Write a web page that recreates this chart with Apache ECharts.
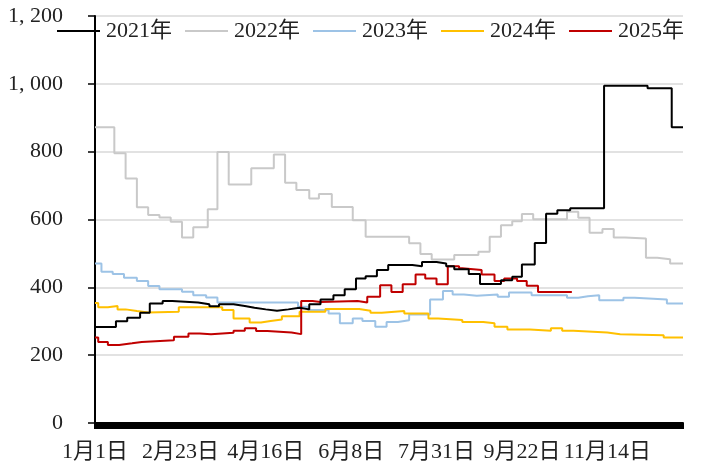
<!DOCTYPE html>
<html>
<head>
<meta charset="utf-8">
<script src="https://cdn.jsdelivr.net/npm/echarts@6/dist/echarts.min.js"></script>
<style>
  html, body { margin: 0; padding: 0; background: #fff; }
  #chart { width: 704px; height: 463px; }
</style>
</head>
<body>
<div id="chart"></div>
<script>
// 年份
var years = ['2021年', '2022年', '2023年', '2024年', '2025年'];
var colors = ['#000000', '#c9c9c9', '#9dc3e6', '#ffc000', '#c00000'];
// x 轴标签（每 53 天一个）
var xLabels = ['1月1日', '2月23日', '4月16日', '6月8日', '7月31日', '9月22日', '11月14日'];

// [第几天, 数值]，数值保持到下一个点
var s2021 = [[0,283],[13,300],[20,310],[28,325],[34,352],[42,360],[48,355],[64,350],[71,344],[77,350],[86,345],[93,340],[99,335],[106,331],[113,335],[120,340],[127,335],[133,350],[140,364],[148,377],[155,394],[162,426],[168,433],[175,451],[182,466],[197,462],[203,475],[212,470],[218,462],[223,453],[232,439],[239,410],[252,421],[259,431],[265,467],[273,531],[280,617],[287,627],[295,633],[316,994],[343,987],[358,872],[365,872]];
var s2022 = [[0,872],[12,795],[19,721],[26,636],[33,613],[40,606],[47,593],[54,547],[61,577],[70,630],[76,799],[83,703],[97,751],[111,792],[118,708],[125,687],[133,662],[139,675],[147,637],[160,598],[168,549],[195,530],[202,498],[209,482],[223,495],[238,505],[245,549],[252,583],[259,595],[265,616],[272,601],[293,623],[300,605],[307,561],[315,572],[322,547],[329,544],[342,487],[349,483],[357,470],[365,470]];
var s2023 = [[0,470],[4,446],[11,439],[18,428],[26,419],[33,404],[40,394],[54,387],[61,377],[69,370],[76,355],[126,343],[132,333],[145,323],[152,294],[160,308],[166,301],[174,284],[181,298],[188,303],[195,320],[208,364],[216,389],[222,379],[229,375],[237,379],[250,372],[257,385],[271,377],[293,369],[300,374],[306,377],[313,362],[328,369],[335,364],[355,352],[365,352]];
var s2024 = [[0,354],[2,341],[8,345],[14,335],[19,330],[26,326],[33,328],[52,341],[79,333],[86,308],[96,296],[103,301],[109,305],[116,315],[127,328],[143,336],[164,331],[171,325],[178,330],[192,323],[207,308],[213,304],[228,298],[241,294],[248,284],[256,276],[270,272],[283,279],[290,272],[297,267],[318,262],[326,259],[353,252],[365,252]];
var s2025 = [[0,252],[2,239],[8,230],[15,235],[23,239],[29,244],[49,254],[58,264],[65,262],[72,266],[86,272],[93,279],[100,271],[107,267],[122,262],[128,360],[135,357],[140,360],[163,355],[169,372],[177,406],[184,386],[191,409],[199,438],[205,426],[212,409],[219,462],[226,456],[228,451],[240,438],[248,419],[254,426],[262,419],[268,405],[275,386],[296,386]];
var seriesData = [s2021, s2022, s2023, s2024, s2025];

var chart = echarts.init(document.getElementById('chart'));
var font = '"Liberation Serif", "Noto Sans CJK SC", serif';

var series = [];
for (var i = 0; i < years.length; i++) {
  series.push({
    name: years[i],
    type: 'line',
    step: 'end',
    symbol: 'none',
    data: seriesData[i],
    lineStyle: { color: colors[i], width: 2 },
    itemStyle: { color: colors[i] },
    z: i == 0 ? 5 : 3
  });
}

var option = {
  animation: false,
  backgroundColor: '#fff',
  grid: { left: 95, right: 21, top: 16, bottom: 40 },
  legend: {
    data: years,
    left: 57,
    top: 20,
    padding: 0,
    width: 680,
    icon: 'rect',
    itemWidth: 43,
    itemHeight: 2,
    itemGap: 13,
    textStyle: { fontFamily: font, fontSize: 22, color: '#222', padding: [0, 0, 0, 1] }
  },
  xAxis: [
    {
      type: 'value',
      min: 0,
      max: 365,
      interval: 53,
      axisLine: { lineStyle: { color: '#000', width: 2 } },
      axisTick: { show: false },
      splitLine: { show: false },
      axisLabel: {
        showMaxLabel: false,
        margin: 18,
        fontFamily: font,
        fontSize: 22,
        color: '#222',
        formatter: function (v) { return xLabels[Math.round(v / 53)] || ''; }
      }
    },
    {
      // 每天一个刻度
      type: 'value',
      position: 'bottom',
      min: 0,
      max: 365,
      interval: 1,
      axisLine: { show: false },
      axisTick: { show: true, length: 6, lineStyle: { color: '#000', width: 2 } },
      axisLabel: { show: false },
      splitLine: { show: false }
    }
  ],
  yAxis: {
    type: 'value',
    min: 0,
    max: 1200,
    interval: 200,
    axisLine: { show: true, lineStyle: { color: '#000', width: 2 } },
    axisTick: { show: true, length: 7, lineStyle: { color: '#000', width: 1.5 } },
    splitLine: { lineStyle: { color: '#d9d9d9', width: 1.5 } },
    axisLabel: {
      margin: 32,
      fontFamily: font,
      fontSize: 22,
      color: '#222',
      formatter: function (v) {
        if (v >= 1000) return Math.floor(v / 1000) + ', ' + String(v % 1000).padStart(3, '0');
        return String(v);
      }
    }
  },
  series: series
};

chart.setOption(option);
</script>
</body>
</html>
